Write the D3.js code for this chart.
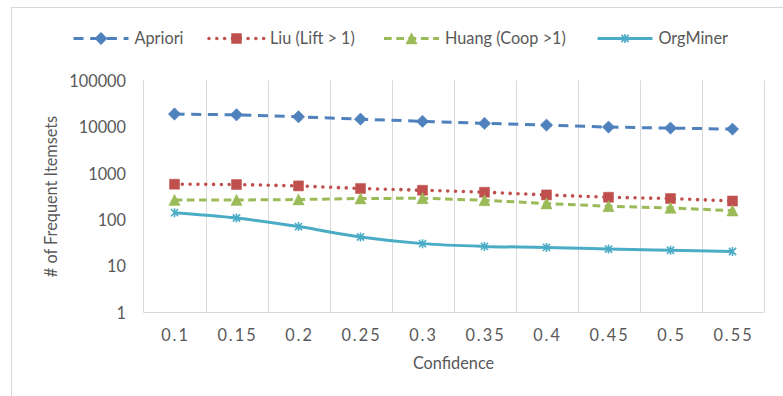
<!DOCTYPE html>
<html><head><meta charset="utf-8">
<script src="https://cdn.jsdelivr.net/npm/d3@7"></script>
<style>
body{margin:0;background:#fff}
svg text{font-family:Lato,"Open Sans",sans-serif;fill:#595959}
</style>
</head><body>
<svg id="c" width="783" height="396"></svg>
<script>
const categories = ["0.1","0.15","0.2","0.25","0.3","0.35","0.4","0.45","0.5","0.55"];
const apriori  = [18900,18250,16500,14700,13150,11900,10930,9900,9420,8960];
const liu      = [582,573,535,470,431,391,342,305,286,253];
const huang    = [266,266,272,286,290,262,223,195,179,157];
const orgMiner = [142,109,71,42.4,30.5,26.6,25.3,23.3,22,20.6];
const yTicks   = [1,10,100,1000,10000,100000];
const seriesNames = ["Apriori","Liu (Lift > 1)","Huang (Coop >1)","OrgMiner"];
const xTitle = "Confidence";
const yTitle = "# of Frequent Itemsets";

const W = 783, H = 396;
const plot = {l:143.5, r:763.5, t:80.5, b:312.5};
const svg = d3.select("#c");
const FS = 16.3;

// outer border
svg.append("rect").attr("x",11.5).attr("y",7.5).attr("width",W+20).attr("height",H+20)
  .attr("fill","none").attr("stroke","#d9d9d9").attr("stroke-width",1);

const x = d3.scaleBand().domain(categories).range([plot.l, plot.r]);
const y = d3.scaleLog().domain([1,100000]).range([plot.b, plot.t]);
const bw = x.bandwidth();
const cx = i => x(categories[i]) + bw/2;

// vertical gridlines
const gx = categories.slice(1).map(c => x(c)).concat([plot.r]);
svg.append("g").selectAll("line").data(gx).join("line")
  .attr("x1",d=>Math.round(d)+0.5).attr("x2",d=>Math.round(d)+0.5)
  .attr("y1",plot.t).attr("y2",plot.b)
  .attr("stroke","#d9d9d9").attr("stroke-width",1);

// axes lines
svg.append("line").attr("x1",plot.l).attr("x2",plot.l).attr("y1",plot.t).attr("y2",plot.b)
  .attr("stroke","#d9d9d9");
svg.append("line").attr("x1",plot.l).attr("x2",plot.r+0.5).attr("y1",plot.b).attr("y2",plot.b)
  .attr("stroke","#d9d9d9");

// x axis
const xa = svg.append("g").attr("transform",`translate(0,${plot.b})`)
  .call(d3.axisBottom(x).tickSize(0));
xa.select(".domain").remove();
xa.selectAll("text").attr("y",22.5).attr("dy","0.36em")
  .style("font-size",FS+"px").style("letter-spacing","2px").attr("dx","1px")
  .style("font-family","Lato,'Open Sans',sans-serif").attr("fill","#595959");

// y axis
const ya = svg.append("g").attr("transform",`translate(${plot.l},0)`)
  .call(d3.axisLeft(y).tickValues(yTicks).tickFormat(d3.format("d")).tickSize(0));
ya.select(".domain").remove();
ya.selectAll("text").attr("x",-(plot.l-126)).attr("dy","0.36em")
  .style("font-size",FS+"px")
  .style("font-family","Lato,'Open Sans',sans-serif").attr("fill","#595959");

// titles
svg.append("text").attr("x",(plot.l+plot.r)/2).attr("y",363).attr("dy","0.36em")
  .attr("text-anchor","middle").style("font-size",FS+"px").text(xTitle);
svg.append("text").attr("transform",`translate(51,${(plot.t+plot.b)/2}) rotate(-90)`)
  .attr("dy","0.36em").attr("text-anchor","middle").style("font-size",FS+"px").text(yTitle);

// series
const markers = {
  diamond: "M0,-6.2L6.2,0L0,6.2L-6.2,0Z",
  square: "M-5,-5H5V5H-5Z",
  triangle: "M0,-5.8L5.6,5.4L-5.6,5.4Z",
  star: "M-3.6,-3.6L3.6,3.6M-3.6,3.6L3.6,-3.6M0,-4.5V4.5"
};
const series = [
  {name:seriesNames[0], values:apriori, color:"#4F81BD", dash:"10,6.7", cap:"butt", w:3, marker:"diamond", curve:d3.curveLinear},
  {name:seriesNames[1], values:liu, color:"#C0504D", dash:"0.01,7.8", cap:"round", w:3.6, marker:"square", curve:d3.curveLinear},
  {name:seriesNames[2], values:huang, color:"#9BBB59", dash:"7.7,4.6", cap:"butt", w:3, marker:"triangle", curve:d3.curveLinear},
  {name:seriesNames[3], values:orgMiner, color:"#4BACC6", dash:null, cap:"butt", w:3, marker:"star", curve:d3.curveCatmullRom.alpha(0.5)}
];

function drawMarker(g, s, px, py){
  const p = g.append("path").attr("d",markers[s.marker]).attr("transform",`translate(${px},${py})`);
  if (s.marker==="star") p.attr("fill","none").attr("stroke",s.color).attr("stroke-width",1.6);
  else p.attr("fill",s.color).attr("stroke",s.color).attr("stroke-width",0.5);
}

series.forEach(s => {
  const line = d3.line().x((d,i)=>cx(i)).y(d=>y(d)).curve(s.curve);
  svg.append("path").datum(s.values).attr("d",line).attr("fill","none")
    .attr("stroke",s.color).attr("stroke-width",s.w).attr("stroke-linecap",s.cap)
    .attr("stroke-dasharray",s.dash);
  const g = svg.append("g");
  s.values.forEach((v,i)=>drawMarker(g,s,cx(i),y(v)));
});

// legend
const legX = [73.5, 209, 384, 597.5];
const legY = 38.5, legLen = 55;
series.forEach((s,k)=>{
  const g = svg.append("g");
  g.append("line").attr("x1",legX[k]).attr("x2",legX[k]+legLen).attr("y1",legY).attr("y2",legY)
    .attr("stroke",s.color).attr("stroke-width",s.w).attr("stroke-linecap",s.cap)
    .attr("stroke-dasharray",s.dash);
  drawMarker(g,s,legX[k]+legLen/2,legY);
  g.append("text").attr("x",legX[k]+legLen+6).attr("y",legY).attr("dy","0.36em")
    .style("font-size",FS+"px").text(s.name);
});
</script>
</body></html>
